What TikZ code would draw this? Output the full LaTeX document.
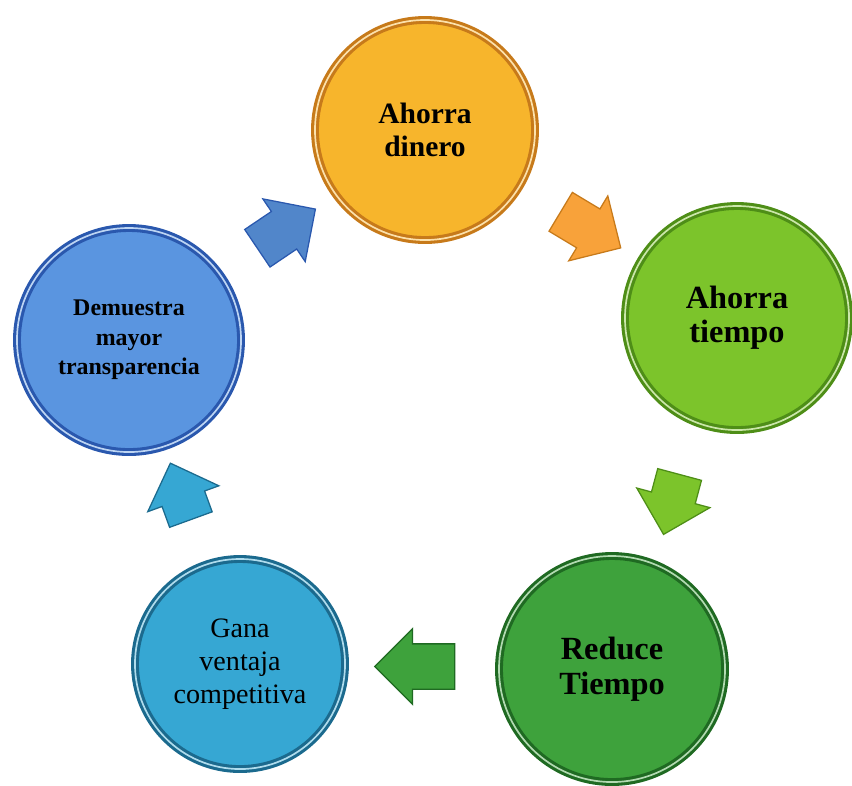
\documentclass[tikz,border=0pt]{standalone}
\usepackage{fontspec}
\setmainfont{Liberation Serif}
\usetikzlibrary{shapes.arrows,calc}

\definecolor{oro}{HTML}{F7B52C}
\definecolor{oroborde}{HTML}{C77A1A}
\definecolor{lima}{HTML}{7CC42B}
\definecolor{limaborde}{HTML}{4E8E17}
\definecolor{verde}{HTML}{3EA23C}
\definecolor{verdeborde}{HTML}{1F6A22}
\definecolor{celeste}{HTML}{36A7D3}
\definecolor{celesteborde}{HTML}{1B6A8E}
\definecolor{azul}{HTML}{5A95E0}
\definecolor{azulborde}{HTML}{2A58AE}
\definecolor{naranja}{HTML}{F8A23A}

\begin{document}
\begin{tikzpicture}[%
      x=0.025cm, y=-0.025cm,
      disc/.style 2 args={circle, fill=#1, draw=#2, line width=2.2pt,
        double=#1!40!white, double distance=1.2pt, align=center, inner sep=0pt},
      flow/.style 2 args={single arrow, fill=#1, draw=#2, line width=0.9pt,
        minimum height=1.75cm, inner xsep=0pt, inner ysep=0.55cm,
        single arrow head extend=0.38cm},
      ]
      \useasboundingbox (0,0) rectangle (852,785);

      % circulos del ciclo
      \node [disc={oro}{oroborde}, minimum size=5.5cm,
        font=\bfseries\fontsize{21}{24}\selectfont] (dinero) at (425,130)
        {Ahorra\\dinero};
      \node [disc={lima}{limaborde}, minimum size=5.6cm,
        font=\bfseries\fontsize{23}{24}\selectfont] (tiempo) at (737,318)
        {Ahorra\\tiempo};
      \node [disc={verde}{verdeborde}, minimum size=5.65cm,
        font=\bfseries\fontsize{23}{25}\selectfont] (reduce) at (612,669)
        {Reduce\\Tiempo};
      \node [disc={celeste}{celesteborde}, minimum size=5.25cm,
        font=\fontsize{20}{23.5}\selectfont] (gana) at (240,664)
        {Gana\\ventaja\\competitiva};
      \node [disc={azul}{azulborde}, minimum size=5.6cm,
        font=\bfseries\fontsize{17}{21}\selectfont] (demuestra) at (129,340)
        {Demuestra\\mayor\\transparencia};

      % flechas entre circulos
      \node [flow={azul!90!black}{azulborde}, rotate=34]
        (f1) at ($(demuestra)!0.5!(dinero)$) {};
      \node [flow={naranja}{oroborde}, rotate=-31]
        (f2) at ($(dinero)!0.5!(tiempo)$) {};
      \node [flow={lima}{limaborde}, rotate=-105, minimum height=1.55cm]
        (f3) at ($(tiempo)!0.5!(reduce)$) {};
      \node [flow={verde}{verdeborde}, rotate=180, minimum height=2cm]
        (f4) at ($(reduce)!0.5!(gana)$) {};
      \node [flow={celeste}{celesteborde}, rotate=110, minimum height=1.5cm]
        (f5) at ($(gana)!0.5!(demuestra)$) {};
\end{tikzpicture}
\end{document}
